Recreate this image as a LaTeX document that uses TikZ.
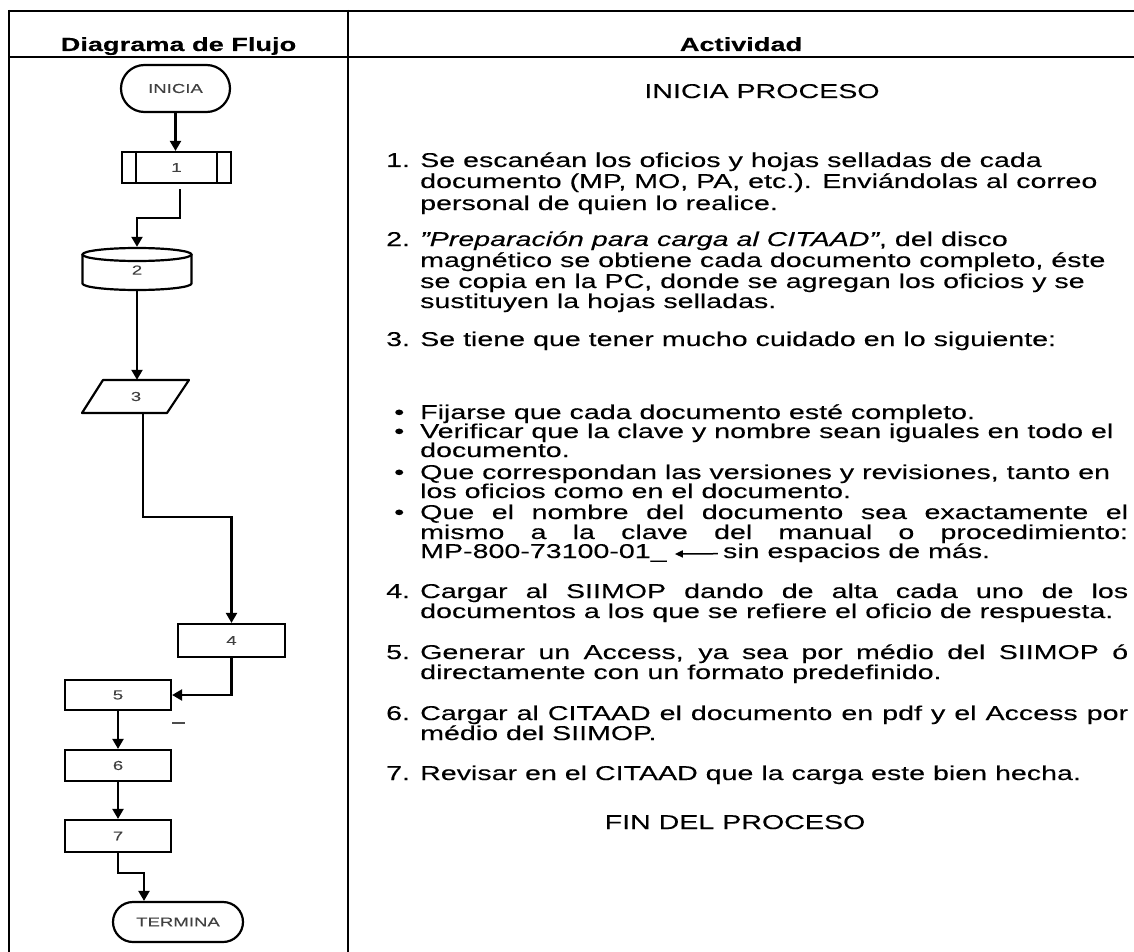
\documentclass[tikz,border=0pt]{standalone}
\usepackage{fontspec}
\setmainfont{Liberation Sans}[FakeStretch=1.43, FakeBold=0.2]
\usetikzlibrary{arrows.meta,shapes.misc,calc}
\newcommand\bodyf{\fontsize{20}{20.5}\selectfont}
\newcommand\hdrf{\fontsize{19}{20}\selectfont\bfseries}
\newcommand\smallf{\fontsize{13}{14}\selectfont}
\newlength\jw
\setlength\jw{708pt}
\newcommand\jl[1]{\makebox[\jw][s]{#1}}
\begin{document}
\begin{tikzpicture}[x=1pt,y=-1pt,
  shp/.style={draw=black, line width=2.2pt},
  box/.style={shp, rectangle, inner sep=0pt, font=\smallf, text=black!75},
  term/.style={box, rounded rectangle},
  lbl/.style={inner sep=0pt, font=\smallf, text=black!75},
  arr/.style={line width=2.2pt, -{Triangle[length=10pt,width=11pt]}},
  frame/.style={line width=2.8pt},
  txt/.style={anchor=base west, inner sep=0pt, font=\bodyf},
  ctxt/.style={anchor=base, inner sep=0pt, font=\bodyf},
  hdr/.style={anchor=base, inner sep=0pt, font=\hdrf},
  bul/.style={anchor=base west, inner sep=0pt, font=\bodyf},
]
\useasboundingbox (0,0) rectangle (1134,952);
% table frame
\draw[frame] (8,11) -- (1134,11);
\draw[frame] (8,57) -- (1134,57);
\draw[frame] (9,10) -- (9,952);
\draw[frame] (348,10) -- (348,952);
% headers
\node[hdr] (h1) at (178.5,51) {Diagrama de Flujo};
\node[hdr] (h2) at (741,51) {Actividad};
% flowchart
\node[term, minimum width=109pt, minimum height=47pt] (ini) at (175.5,88.5) {INICIA};
\node[box, minimum width=109pt, minimum height=31pt] (b1) at (176.5,167.5) {1};
\draw[shp] ([xshift=15pt]b1.north west) -- ([xshift=15pt]b1.south west);
\draw[shp] ([xshift=-15pt]b1.north east) -- ([xshift=-15pt]b1.south east);
% disk
\draw[shp] (82.5,254.5) -- (82.5,283.5) arc[start angle=180, end angle=0, x radius=54.5, y radius=6.5] -- (191.5,254.5);
\draw[shp] (137,254.5) ellipse[x radius=54.5, y radius=6.5];
\node[lbl, minimum width=109pt, minimum height=42pt] (d2) at (137,270) {2};
% parallelogram
\draw[shp, line join=round] (103,380) -- (189,380) -- (167,413) -- (82,413) -- cycle;
\node[lbl, minimum width=86pt, minimum height=33pt] (p3) at (136,396.5) {3};
\node[box, minimum width=107pt, minimum height=33pt] (b4) at (231.5,640.5) {4};
\node[box, minimum width=106pt, minimum height=30pt] (b5) at (118,695) {5};
\node[box, minimum width=106pt, minimum height=31pt] (b6) at (118,765.5) {6};
\node[box, minimum width=106pt, minimum height=32pt] (b7) at (118,836) {7};
\node[term, minimum width=130pt, minimum height=40pt] (tm) at (178,922) {TERMINA};
% connectors
\draw[arr] (ini.south) -- (ini.south |- b1.north);
\coordinate (c12) at (180,218);
\draw[arr] ($(b1.south -| c12)+(0,5)$) -- (c12) -| ($(d2.north)+(0,-2)$);
\draw[arr] (d2.south) -- (d2.south |- p3.north);
\coordinate (c34) at (143,517);
\draw[arr] (p3.south -| c34) -- (c34) -| (b4.north);
\draw[arr] (b4.south) |- (b5.east);
\draw[line width=1.5pt, black!70] (172,723) -- (185,723);
\draw[arr] (b5.south) -- (b6.north);
\draw[arr] (b6.south) -- (b7.north);
\coordinate (c7t) at (144,873);
\draw[arr] (b7.south) |- (c7t) -- (c7t |- tm.north);
% activity text
\node[ctxt] (ip) at (762,98) {INICIA PROCESO};
\node[txt] (n1) at (386,167) {1.};
\node[txt] (t1a) at (420,167) {Se escanéan los oficios y hojas selladas de cada};
\node[txt] (t1b) at (420,188) {documento (MP, MO, PA, etc.). Enviándolas al correo};
\node[txt] (t1c) at (420,210) {personal de quien lo realice.};
\node[txt] (n2) at (386,246) {2.};
\node[txt] (t2a) at (420,246) {\textit{"Preparación para carga al CITAAD"}, del disco};
\node[txt] (t2b) at (420,267) {magnético se obtiene cada documento completo, éste};
\node[txt] (t2c) at (420,288) {se copia en la PC, donde se agregan los oficios y se};
\node[txt] (t2d) at (420,308) {sustituyen la hojas selladas.};
\node[txt] (n3) at (386,346) {3.};
\node[txt] (t3a) at (420,346) {Se tiene que tener mucho cuidado en lo siguiente:};
\node[bul] (u1) at (394,419) {•};
\node[txt] (s1a) at (420,419) {Fijarse que cada documento esté completo.};
\node[bul] (u2) at (394,438) {•};
\node[txt] (s2a) at (420,438) {Verificar que la clave y nombre sean iguales en todo el};
\node[txt] (s2b) at (420,457) {documento.};
\node[bul] (u3) at (394,479) {•};
\node[txt] (s3a) at (420,479) {Que correspondan las versiones y revisiones, tanto en};
\node[txt] (s3b) at (420,498) {los oficios como en el documento.};
\node[bul] (u4) at (394,519) {•};
\node[txt] (s4a) at (420,519) {\jl{Que el nombre del documento sea exactamente el}};
\node[txt] (s4b) at (420,539) {\jl{mismo a la clave del manual o procedimiento:}};
\node[txt] (mp) at (420,558) {MP-800-73100-01\_};
\node[txt] (sin) at ($(mp.base east)+(56,0)$) {sin espacios de más.};
\draw[line width=1.5pt, -{Triangle[length=8pt,width=7pt]}] ($(sin.west)+(-5,1)$) -- ($(mp.east)+(8,1)$);
\node[txt] (n4) at (386,598) {4.};
\node[txt] (t4a) at (420,598) {\jl{Cargar al SIIMOP dando de alta cada uno de los}};
\node[txt] (t4b) at (420,618) {documentos a los que se refiere el oficio de respuesta.};
\node[txt] (n5) at (386,659) {5.};
\node[txt] (t5a) at (420,659) {\jl{Generar un Access, ya sea por médio del SIIMOP ó}};
\node[txt] (t5b) at (420,679) {directamente con un formato predefinido.};
\node[txt] (n6) at (386,720) {6.};
\node[txt] (t6a) at (420,720) {\jl{Cargar al CITAAD el documento en pdf y el Access por}};
\node[txt] (t6b) at (420,740) {médio del SIIMOP.};
\node[txt] (n7) at (386,780) {7.};
\node[txt] (t7a) at (420,780) {Revisar en el CITAAD que la carga este bien hecha.};
\node[ctxt] (fin) at (735,829) {FIN DEL PROCESO};
\end{tikzpicture}
\end{document}
